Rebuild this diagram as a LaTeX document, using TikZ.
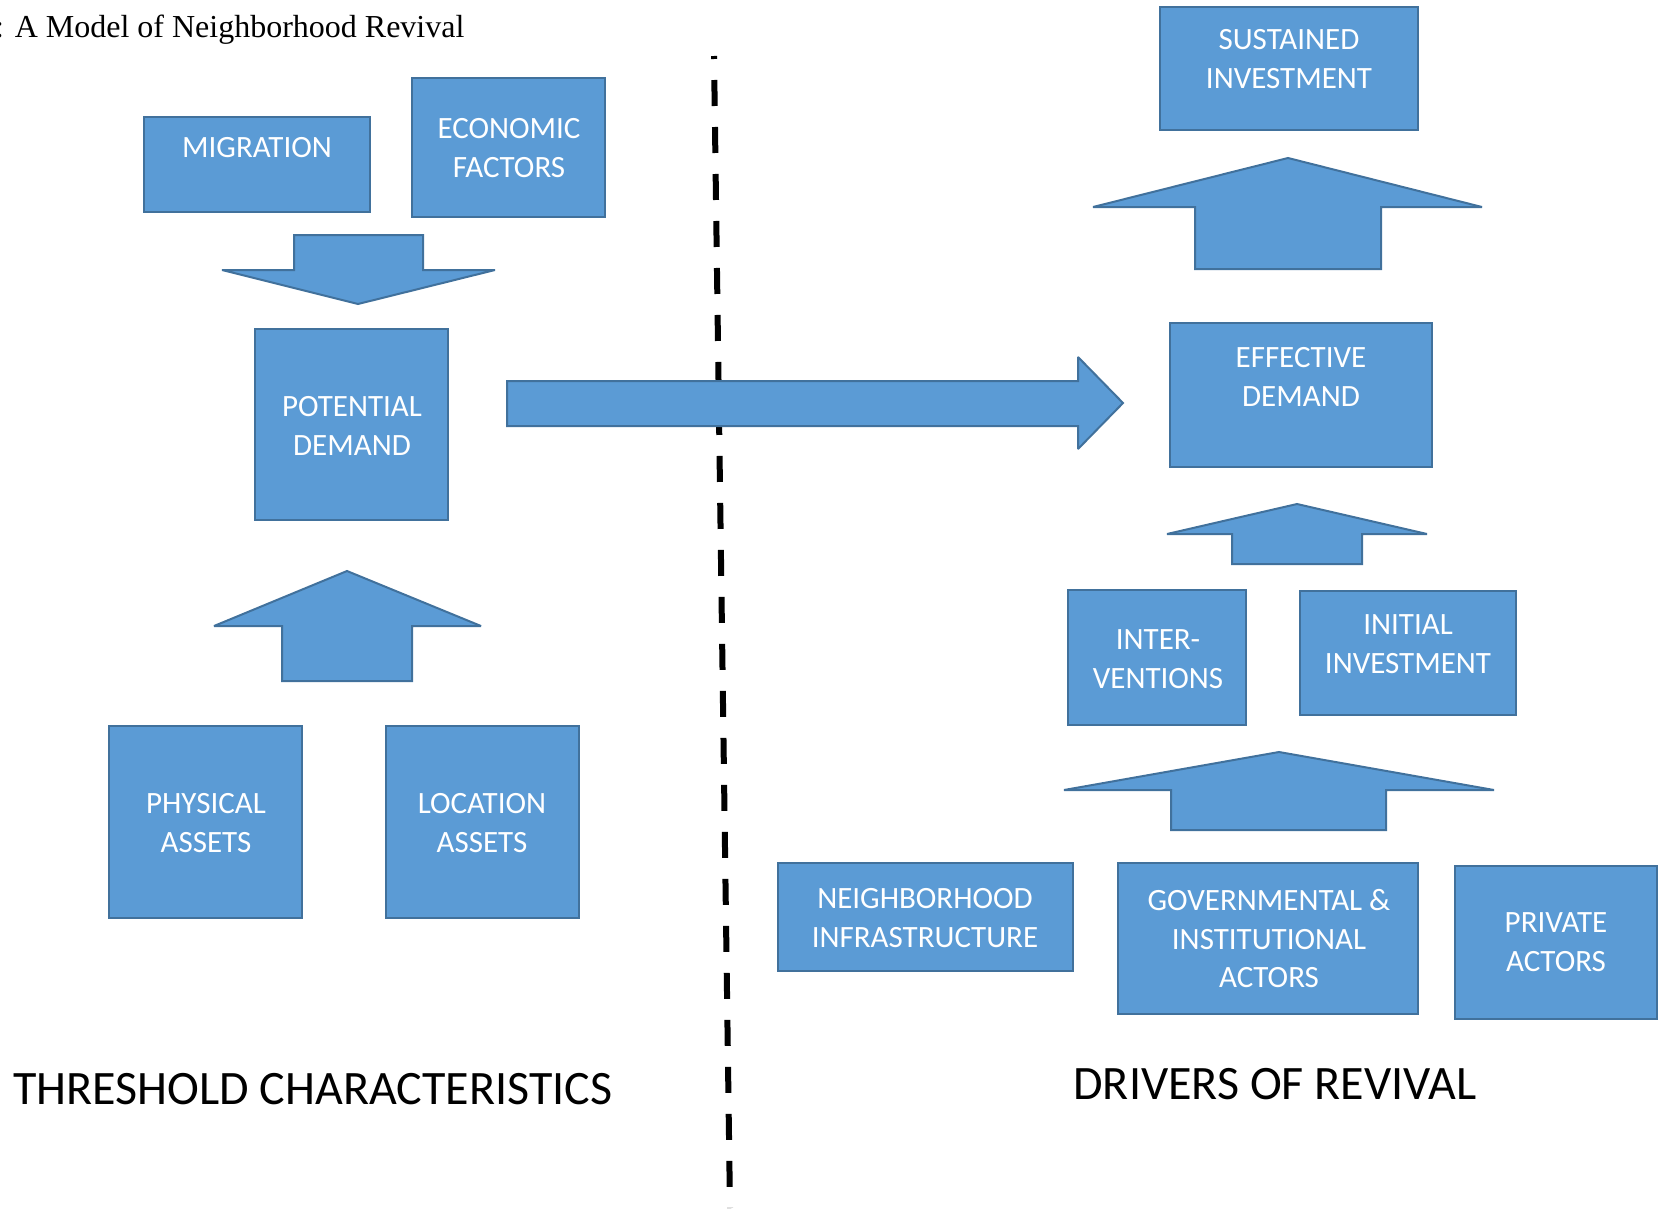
\documentclass[tikz,border=0pt]{standalone}
\usepackage{fontspec}
\setmainfont{Carlito}
\newfontfamily\titlefont{Liberation Serif}
\definecolor{boxblue}{HTML}{5B9BD5}
\definecolor{boxline}{HTML}{41719C}
\tikzset{
  box/.style={draw=boxline, fill=boxblue, line width=2pt, inner sep=0pt, outer sep=0pt, anchor=north west},
  boxtext/.style={text=white, align=center, inner sep=0pt, font=\fontsize{31}{38.5}\selectfont},
  blockarrow/.style={draw=boxline, fill=boxblue, line width=2pt, line join=miter, miter limit=2},
  sidetitle/.style={inner sep=0pt, font=\fontsize{48}{56}\selectfont}
}
\begin{document}
\begin{tikzpicture}[x=1pt, y=-1pt]
  \useasboundingbox (0, 0) rectangle (1662, 1213);

  \node[anchor=base west, inner sep=0pt, font=\titlefont\fontsize{32}{38}\selectfont] (title) at (-5, 37) {: A Model of Neighborhood Revival};

  % left half
  \node[box, minimum width=226, minimum height=95] (migbox) at (144, 117) {};
  \node[box, minimum width=193, minimum height=139] (ecobox) at (412, 78) {};
  \node[box, minimum width=193, minimum height=191] (potbox) at (255, 329) {};
  \node[box, minimum width=193, minimum height=192] (phybox) at (109, 726) {};
  \node[box, minimum width=193, minimum height=192] (locbox) at (386, 726) {};

  \node[boxtext] (migtext) at (257, 148) {MIGRATION};
  \node[boxtext] (ecotext) at (509, 148) {ECONOMIC\\FACTORS};
  \node[boxtext] (pottext) at (352, 426) {POTENTIAL\\DEMAND};
  \node[boxtext] (phytext) at (206, 823) {PHYSICAL\\ASSETS};
  \node[boxtext] (loctext) at (482, 823) {LOCATION\\ASSETS};

  \draw[blockarrow] (294, 235) -- (423, 235) -- (423, 270) -- (495, 270)
    -- (358, 304) -- (222, 270) -- (294, 270) -- cycle;
  \draw[blockarrow] (282, 681) -- (282, 626) -- (214, 626) -- (347, 571)
    -- (481, 626) -- (412, 626) -- (412, 681) -- cycle;

  \node[sidetitle] (thresh) at (313, 1089) {THRESHOLD CHARACTERISTICS};

  % divider
  \draw[line width=6pt, dash pattern=on 26pt off 21pt, dash phase=23pt] (714, 56) -- (730, 1208);

  % across
  \draw[blockarrow] (507, 381) -- (1078, 381) -- (1078, 357) -- (1123, 403)
    -- (1078, 449) -- (1078, 426) -- (507, 426) -- cycle;

  % right half
  \node[box, minimum width=258, minimum height=123] (susbox) at (1160, 7) {};
  \node[box, minimum width=262, minimum height=144] (effbox) at (1170, 323) {};
  \node[box, minimum width=178, minimum height=135] (intbox) at (1068, 590) {};
  \node[box, minimum width=216, minimum height=124] (inibox) at (1300, 591) {};
  \node[box, minimum width=295, minimum height=108] (nbhbox) at (778, 863) {};
  \node[box, minimum width=300, minimum height=151] (govbox) at (1118, 863) {};
  \node[box, minimum width=202, minimum height=153] (pribox) at (1455, 866) {};

  \node[boxtext] (sustext) at (1289, 59) {SUSTAINED\\INVESTMENT};
  \node[boxtext] (efftext) at (1301, 377) {EFFECTIVE\\DEMAND};
  \node[boxtext] (inttext) at (1158, 659) {INTER-\\VENTIONS};
  \node[boxtext] (initext) at (1408, 644) {INITIAL\\INVESTMENT};
  \node[boxtext] (nbhtext) at (925, 918) {NEIGHBORHOOD\\INFRASTRUCTURE};
  \node[boxtext] (govtext) at (1269, 939) {GOVERNMENTAL \&\\INSTITUTIONAL\\ACTORS};
  \node[boxtext] (pritext) at (1556, 942) {PRIVATE\\ACTORS};

  \draw[blockarrow] (1195, 269) -- (1195, 207) -- (1093, 207) -- (1288, 158)
    -- (1482, 207) -- (1381, 207) -- (1381, 269) -- cycle;
  \draw[blockarrow] (1232, 564) -- (1232, 534) -- (1167, 534) -- (1297, 504)
    -- (1427, 534) -- (1362, 534) -- (1362, 564) -- cycle;
  \draw[blockarrow] (1171, 830) -- (1171, 790) -- (1064, 790) -- (1279, 752)
    -- (1494, 790) -- (1386, 790) -- (1386, 830) -- cycle;

  \node[sidetitle] (drivers) at (1275, 1084) {DRIVERS OF REVIVAL};
\end{tikzpicture}
\end{document}
